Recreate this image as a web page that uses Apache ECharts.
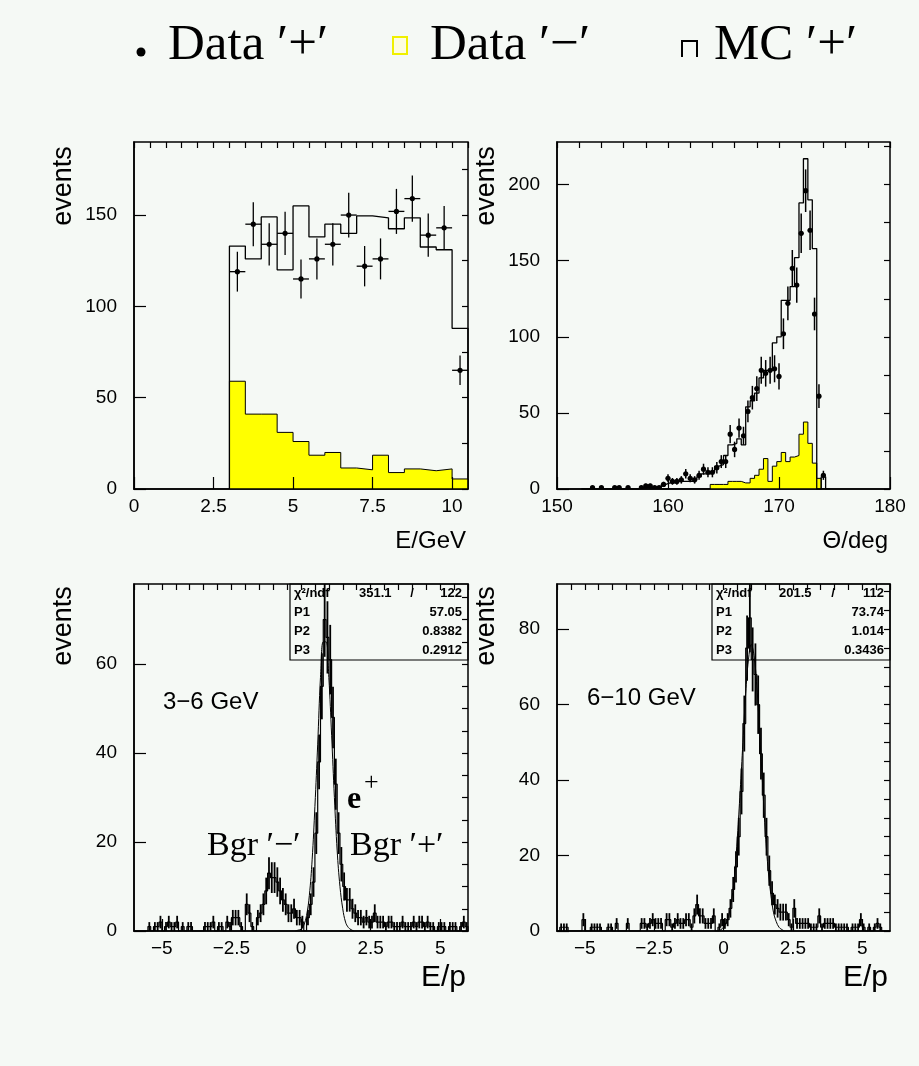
<!DOCTYPE html>
<html>
<head>
<meta charset="utf-8">
<script src="https://cdn.jsdelivr.net/npm/echarts@6/dist/echarts.min.js"></script>
<style>
  html, body { margin: 0; padding: 0; background: #f5f9f5; }
  #chart { width: 919px; height: 1066px; }
</style>
</head>
<body>
<div id="chart"></div>
<script>
// ---- energy spectrum (top left), bins of 0.5 GeV from 3 GeV
const eLo = 3, eW = 0.5;
const eMC    = [133, 126, 149, 120, 155, 138, 145, 140, 149.5, 148.5, 142.5, 148.5, 132.5, 131, 88];
const ePlus  = [119, 145, 134, 140, 115, 126, 134, 150, 122, 126, 152, 159, 139, 143, 65];
const eMinus = [59, 41, 41, 31, 26, 18.5, 20, 11.5, 10.5, 18.5, 9, 11, 10, 11, 5.5];

// ---- angle spectrum (top right), bins of 0.4 deg from 152.2 deg
const thLo = 152.2, thW = 0.4;
const thMC = [0, 0, 0, 0, 0, 0, 0, 0, 0, 0, 0, 0, 0,
  1, 1, 1, 1, 1, 3, 4, 4, 5, 5, 5, 5, 6, 8, 10, 10, 11, 15, 16, 22, 29, 30, 33, 29,
  54, 58, 63, 73, 78, 78, 96, 100, 124, 124, 133, 152, 188, 217, 190, 158, 0, 8, 0];
const thPlus = [0, 0, 1, 0, 1, 0, 0, 1, 1, 0, 1, 0, 0,
  1, 2, 2, 1, 1, 3, 7, 5, 5, 6, 10, 7, 6, 9, 13, 11, 11, 14, 18, 18, 36, 26, 40, 35,
  51, 60, 66, 78, 76, 78, 79, 74, 102, 122, 145, 134, 168, 196, 170, 115, 61, 9, 0];
const thMinus = [0, 0, 0, 0, 0, 0, 0, 0, 0, 0, 0, 0, 0, 0, 0, 0, 0, 0, 0, 0, 0, 0, 0, 0, 0, 0, 0, 0, 0,
  3, 3, 3, 3, 5, 5, 5, 4, 4, 7, 9, 13, 20, 5, 15, 18, 24, 18, 21, 22, 36, 44, 30, 17, 7, 0, 0];

// ---- E/p spectra (bottom), bins of 0.1 from -6
const epLo = -6, epW = 0.1;
const ep36 = [
  0, 0, 0, 0, 0, 1, 0, 1, 1, 2,
  0, 1, 2, 1, 1, 2, 0, 1, 0, 1,
  1, 0, 0, 0, 0, 1, 1, 1, 2, 0,
  1, 1, 0, 2, 1, 3, 3, 3, 1, 0,
  6, 4, 1, 0, 3, 4, 6, 9, 13, 12,
  12, 11, 9, 7, 6, 4, 4, 5, 3, 3,
  2, 0, 3, 6, 11, 22, 38, 55, 70, 66,
  61, 48, 33, 22, 15, 10, 7, 7, 5, 4,
  3, 3, 2, 3, 2, 2, 4, 2, 2, 2,
  1, 2, 2, 1, 1, 1, 2, 1, 1, 1,
  2, 1, 2, 2, 1, 2, 1, 1, 0, 1,
  1, 1, 0, 1, 1, 1, 0, 1, 2, 1];
const ep610 = [
  0, 1, 1, 1, 0, 0, 0, 0, 0, 3,
  0, 0, 1, 1, 1, 1, 0, 0, 1, 1,
  0, 2, 0, 0, 0, 2, 0, 0, 0, 0,
  2, 2, 1, 2, 3, 2, 2, 2, 0, 3,
  3, 1, 2, 3, 2, 2, 3, 3, 1, 4,
  7, 4, 4, 2, 2, 2, 4, 0, 1, 3,
  2, 3, 6, 11, 17, 25, 37, 55, 75, 83,
  72, 68, 60, 47, 36, 25, 16, 10, 7, 6,
  5, 5, 5, 3, 1, 6, 2, 2, 2, 2,
  2, 1, 1, 1, 4, 1, 2, 2, 2, 2,
  1, 1, 1, 1, 1, 0, 1, 1, 1, 3,
  1, 0, 1, 0, 1, 2, 1, 0, 0, 0];
// fitted curves
const fit36X = [-0.2, -0.1, 0, 0.1, 0.2, 0.3, 0.4, 0.5, 0.6, 0.7, 0.8, 0.9, 1.0, 1.1, 1.2, 1.3, 1.4, 1.5, 1.6, 1.7, 1.8, 1.9];
const fit36Y = [0, 0.2, 0.4, 1.3, 3.5, 8, 16, 28, 42, 57, 65, 65, 57, 44, 30, 18, 10, 5, 2, 0.8, 0.3, 0];
const fit610X = [-0.2, -0.1, 0, 0.1, 0.2, 0.3, 0.4, 0.5, 0.6, 0.7, 0.8, 0.9, 1.0, 1.1, 1.2, 1.3, 1.4, 1.5, 1.6, 1.7, 1.8, 1.9, 2.0, 2.1, 2.2];
const fit610Y = [0, 0.3, 1, 2, 4.5, 8.5, 15, 25, 37, 50, 63, 72, 76, 73, 65, 53, 40, 27, 17, 10, 5, 2.5, 1, 0.4, 0];

// tick labels
const eTicks = [0, 2.5, 5, 7.5, 10];
const eYTicks = [0, 50, 100, 150];
const thTicks = [150, 160, 170, 180];
const thYTicks = [0, 50, 100, 150, 200];
const epTicks = [-5, -2.5, 0, 2.5, 5];
const ep36YTicks = [0, 20, 40, 60];
const ep610YTicks = [0, 20, 40, 60, 80];

const FONT = '"Liberation Sans", Arial, sans-serif';
const SERIF = '"Liberation Serif", "Times New Roman", serif';

function range(a, b, step) {
  const out = [];
  for (let v = a; v <= b + 1e-9; v += step) out.push(+v.toFixed(4));
  return out;
}

// histogram outline as step points
function steps(lo, w, vals) {
  const pts = [[lo, 0]];
  vals.forEach((v, i) => pts.push([lo + i * w, v]));
  pts.push([lo + vals.length * w, vals[vals.length - 1]]);
  pts.push([lo + vals.length * w, 0]);
  return pts;
}
function centers(lo, w, vals) {
  return vals.map((v, i) => [lo + (i + 0.5) * w, v]);
}

// data points with sqrt(N) error bars
function crosses(halfW, dot, barW) {
  return function (params, api) {
    const x = api.value(0), y = api.value(1);
    if (!(y > 0)) return null;
    const e = Math.sqrt(y);
    const pL = api.coord([x - halfW, y]), pR = api.coord([x + halfW, y]);
    const pT = api.coord([x, y + e]), pB = api.coord([x, Math.max(y - e, 0)]);
    const kids = [
      {type: 'line', shape: {x1: pT[0], y1: pT[1], x2: pB[0], y2: pB[1]}, style: {stroke: '#000', lineWidth: barW}}
    ];
    if (halfW > 0) kids.push({type: 'line', shape: {x1: pL[0], y1: pL[1], x2: pR[0], y2: pR[1]}, style: {stroke: '#000', lineWidth: 1.3}});
    if (dot) kids.push({type: 'circle', shape: {cx: pL[0] + (pR[0] - pL[0]) / 2, cy: pL[1], r: 2.6}, style: {fill: '#000'}});
    return {type: 'group', children: kids};
  };
}

const grids = [
  {left: 134, top: 142, width: 334, height: 347},
  {left: 557, top: 142, width: 333, height: 347},
  {left: 134, top: 584, width: 334, height: 347},
  {left: 557, top: 584, width: 333, height: 347}
].map(g => Object.assign(g, {show: true, borderColor: '#000', borderWidth: 1.5, backgroundColor: 'transparent'}));

const fmt = v => String(v).replace('-', '\u2212');

function axisPair(gi, min, max, major, minor, isX) {
  return [{
    type: 'value', gridIndex: gi, min, max, z: 5,
    axisLine: {show: true, onZero: false, lineStyle: {color: '#000', width: 1.5}},
    axisTick: {show: true, inside: true, length: 12, customValues: major, lineStyle: {color: '#000', width: 1.2}},
    axisLabel: {customValues: major, color: '#000', fontSize: 19, fontFamily: FONT, margin: isX ? 8 : 17, formatter: fmt},
    splitLine: {show: false}
  }, {
    type: 'value', gridIndex: gi, min, max, z: 5,
    axisLine: {show: false, onZero: false},
    axisTick: {show: true, inside: true, length: 6, customValues: minor, lineStyle: {color: '#000', width: 1.2}},
    axisLabel: {show: false},
    splitLine: {show: false}
  }];
}

const xAxis = [
  ...axisPair(0, 0, 10.5, eTicks, range(0, 10.5, 0.5), true),
  ...axisPair(1, 150, 180, thTicks, range(150, 180, 2), true),
  ...axisPair(2, -6, 6, epTicks, range(-6, 6, 0.5), true),
  ...axisPair(3, -6, 6, epTicks, range(-6, 6, 0.5), true)
];
const yAxis = [
  ...axisPair(0, 0, 190, eYTicks, range(0, 190, 25), false),
  ...axisPair(1, 0, 228, thYTicks, range(0, 228, 25), false),
  ...axisPair(2, 0, 78, ep36YTicks, range(0, 78, 5), false),
  ...axisPair(3, 0, 92, ep610YTicks, range(0, 92, 5), false)
];

function on(gi, s) { return Object.assign({xAxisIndex: 2 * gi, yAxisIndex: 2 * gi, animation: false}, s); }
const histLine = {color: '#000', width: 1.3};

const series = [
  // top left
  on(0, {type: 'line', step: 'end', symbol: 'none', data: steps(eLo, eW, eMinus), lineStyle: {color: '#000', width: 1}, areaStyle: {color: '#ffff00', opacity: 1}, z: 1}),
  on(0, {type: 'line', step: 'end', symbol: 'none', data: steps(eLo, eW, eMC), lineStyle: histLine, z: 2}),
  on(0, {type: 'custom', clip: true, data: centers(eLo, eW, ePlus), renderItem: crosses(eW / 2, true, 1.3), z: 3}),
  // top right
  on(1, {type: 'line', step: 'end', symbol: 'none', data: steps(thLo, thW, thMinus), lineStyle: {color: '#000', width: 1}, areaStyle: {color: '#ffff00', opacity: 1}, z: 1}),
  on(1, {type: 'line', step: 'end', symbol: 'none', data: steps(thLo, thW, thMC), lineStyle: histLine, z: 2}),
  on(1, {type: 'custom', clip: true, data: centers(thLo, thW, thPlus), renderItem: crosses(thW / 2, true, 1.5), z: 3}),
  // bottom left
  on(2, {type: 'line', step: 'end', symbol: 'none', data: steps(epLo, epW, ep36), lineStyle: {color: '#000', width: 1.2}, z: 2}),
  on(2, {type: 'custom', clip: true, data: centers(epLo, epW, ep36), renderItem: crosses(0, false, 1.8), z: 3}),
  on(2, {type: 'line', smooth: 0.4, symbol: 'none', data: fit36X.map((x, i) => [x, fit36Y[i]]), lineStyle: {color: '#000', width: 1}, z: 4}),
  // bottom right
  on(3, {type: 'line', step: 'end', symbol: 'none', data: steps(epLo, epW, ep610), lineStyle: {color: '#000', width: 1.2}, z: 2}),
  on(3, {type: 'custom', clip: true, data: centers(epLo, epW, ep610), renderItem: crosses(0, false, 1.8), z: 3}),
  on(3, {type: 'line', smooth: 0.4, symbol: 'none', data: fit610X.map((x, i) => [x, fit610Y[i]]), lineStyle: {color: '#000', width: 1}, z: 4})
];

function txt(text, x, y, font, align, extra) {
  return Object.assign({type: 'text', x, y, z: 10, style: {text, font, fill: '#000', align: align || 'left', verticalAlign: 'middle'}}, extra || {});
}
const vert = {rotation: Math.PI / 2};
const box = 'bold 13px ' + FONT;

const graphic = [
  // legend
  {type: 'circle', shape: {cx: 141, cy: 52, r: 4.5}, style: {fill: '#000'}},
  txt('Data \u2032+\u2032', 168, 46, '51px ' + SERIF),
  {type: 'rect', shape: {x: 393, y: 37, width: 14, height: 17}, style: {fill: '#fdfde0', stroke: '#f0f000', lineWidth: 2}},
  txt('Data \u2032\u2212\u2032', 430, 46, '51px ' + SERIF),
  {type: 'polyline', shape: {points: [[682, 57], [682, 41], [697, 41], [697, 57]]}, style: {stroke: '#000', lineWidth: 2, fill: 'none'}},
  txt('MC \u2032+\u2032', 714, 46, '51px ' + SERIF),
  // y titles
  txt('events', 64, 186, '27px ' + FONT, 'center', vert),
  txt('events', 487, 186, '27px ' + FONT, 'center', vert),
  txt('events', 64, 626, '27px ' + FONT, 'center', vert),
  txt('events', 487, 626, '27px ' + FONT, 'center', vert),
  // x titles
  txt('E/GeV', 466, 541, '24px ' + FONT, 'right'),
  txt('\u0398/deg', 888, 541, '24px ' + FONT, 'right'),
  txt('E/p', 466, 978, '30px ' + FONT, 'right'),
  txt('E/p', 888, 978, '30px ' + FONT, 'right'),
  // fit boxes
  {type: 'rect', z: 10, shape: {x: 290, y: 584, width: 178, height: 76}, style: {fill: 'none', stroke: '#000', lineWidth: 1.2}},
  txt('\u03c7\u00b2/ndf', 294, 593, box),
  txt('351.1', 359, 593, box),
  txt('/', 412, 593, box, 'center'),
  txt('122', 462, 593, box, 'right'),
  txt('P1', 294, 612, box), txt('57.05', 462, 612, box, 'right'),
  txt('P2', 294, 631, box), txt('0.8382', 462, 631, box, 'right'),
  txt('P3', 294, 650, box), txt('0.2912', 462, 650, box, 'right'),
  {type: 'rect', z: 10, shape: {x: 712, y: 584, width: 178, height: 76}, style: {fill: 'none', stroke: '#000', lineWidth: 1.2}},
  txt('\u03c7\u00b2/ndf', 716, 593, box),
  txt('201.5', 779, 593, box),
  txt('/', 833, 593, box, 'center'),
  txt('112', 884, 593, box, 'right'),
  txt('P1', 716, 612, box), txt('73.74', 884, 612, box, 'right'),
  txt('P2', 716, 631, box), txt('1.014', 884, 631, box, 'right'),
  txt('P3', 716, 650, box), txt('0.3436', 884, 650, box, 'right'),
  // annotations
  txt('3\u22126 GeV', 163, 702, '24px ' + FONT),
  txt('6\u221210 GeV', 587, 698, '24px ' + FONT),
  txt('e', 347, 800, 'bold 32px ' + SERIF),
  txt('+', 364, 783, '26px ' + SERIF),
  txt('Bgr \u2032\u2212\u2032', 207, 846, '34px ' + SERIF),
  txt('Bgr \u2032+\u2032', 350, 846, '34px ' + SERIF)
];

const chart = echarts.init(document.getElementById('chart'));
chart.setOption({
  backgroundColor: '#f5f9f5',
  animation: false,
  grid: grids,
  xAxis,
  yAxis,
  series,
  graphic
});
</script>
</body>
</html>
